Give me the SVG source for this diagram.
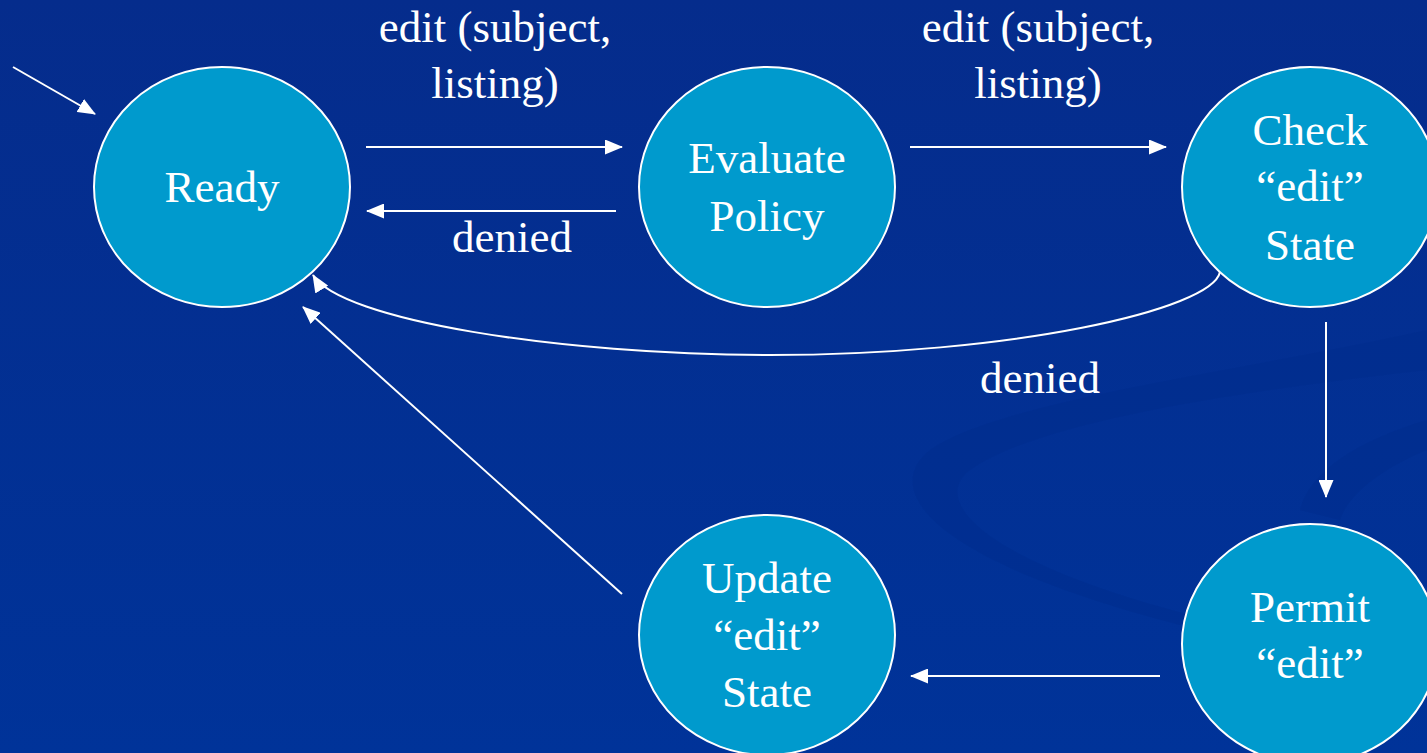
<svg xmlns="http://www.w3.org/2000/svg" width="1427" height="753" viewBox="0 0 1427 753">
  <defs>
    <linearGradient id="bg" x1="0" y1="0" x2="0" y2="1">
      <stop offset="0" stop-color="#052c8c"/>
      <stop offset="1" stop-color="#003399"/>
    </linearGradient>
    <marker id="arrow" viewBox="0 0 18 15" refX="17" refY="7.5" markerWidth="18" markerHeight="15" markerUnits="userSpaceOnUse" orient="auto">
      <path d="M0,0 L18,7.5 L0,15 Z" fill="#ffffff"/>
    </marker>
    <style>
      .state { fill: #009acd; stroke: #ffffff; stroke-width: 2; }
      .label { font-size: 45px; fill: #ffffff; text-anchor: middle; }
      .edge { fill: none; stroke: #ffffff; stroke-width: 2; marker-end: url(#arrow); }
      .swoosh { fill: #002d8c; opacity: 0.45; }
    </style>
  </defs>

  <!-- backdrop -->
  <rect x="0" y="0" width="1427" height="753" fill="url(#bg)"/>
  <g id="backdrop-swoosh">
    <path class="swoosh" d="M1427,330 C1250,370 1000,400 930,450 C880,490 930,560 1180,625 L1190,615 C980,560 930,500 970,470 C1040,420 1250,390 1427,370 Z"/>
    <path class="swoosh" d="M1427,420 C1360,440 1310,470 1300,510 L1340,520 C1350,490 1390,465 1427,450 Z"/>
  </g>

  <g font-family="'Liberation Serif', 'DejaVu Serif', serif">
  <!-- connectors -->
  <g id="connectors">
    <line class="edge" x1="13" y1="67" x2="95" y2="114"/>
    <line class="edge" x1="366" y1="147" x2="622" y2="147"/>
    <line class="edge" x1="616" y1="211" x2="367" y2="211"/>
    <line class="edge" x1="910" y1="147" x2="1166" y2="147"/>
    <path class="edge" d="M1220,272 C1212,310 1010,355 770,355 C560,355 340,320 313,275"/>
    <line class="edge" x1="1326" y1="322" x2="1326" y2="497"/>
    <line class="edge" x1="1160" y1="676" x2="911" y2="676"/>
    <line class="edge" x1="622" y1="594" x2="303" y2="307"/>
    <text class="label" x="495" y="42">edit (subject,</text>
    <text class="label" x="495" y="98">listing)</text>
    <text class="label" x="512" y="252">denied</text>
    <text class="label" x="1038" y="42">edit (subject,</text>
    <text class="label" x="1038" y="98">listing)</text>
    <text class="label" x="1040" y="393">denied</text>
  </g>

  <!-- states -->
  <g id="ready">
    <ellipse class="state" cx="222" cy="187" rx="128" ry="120"/>
    <text class="label" x="222" y="202">Ready</text>
  </g>
  <g id="evaluate-policy">
    <ellipse class="state" cx="767" cy="187" rx="128" ry="120"/>
    <text class="label" x="767" y="173">Evaluate</text>
    <text class="label" x="767" y="231">Policy</text>
  </g>
  <g id="check-edit-state">
    <ellipse class="state" cx="1310" cy="187" rx="128" ry="120"/>
    <text class="label" x="1310" y="145">Check</text>
    <text class="label" x="1310" y="201">“edit”</text>
    <text class="label" x="1310" y="260">State</text>
  </g>
  <g id="permit-edit">
    <ellipse class="state" cx="1310" cy="644" rx="128" ry="120"/>
    <text class="label" x="1310" y="622">Permit</text>
    <text class="label" x="1310" y="678">“edit”</text>
  </g>
  <g id="update-edit-state">
    <ellipse class="state" cx="767" cy="635" rx="128" ry="120"/>
    <text class="label" x="767" y="593">Update</text>
    <text class="label" x="767" y="650">“edit”</text>
    <text class="label" x="767" y="707">State</text>
  </g>
  </g>
</svg>
